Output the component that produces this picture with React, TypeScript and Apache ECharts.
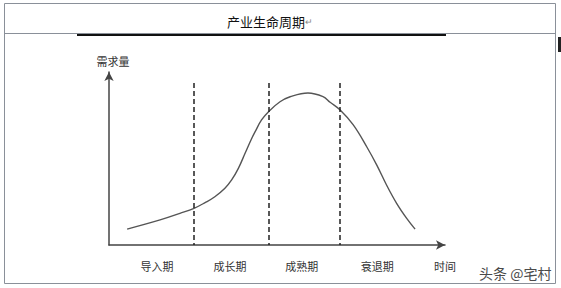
import React, { useEffect, useRef } from 'react';
import * as echarts from 'echarts';

const timeValues = [5.4, 15.2, 21.1, 25.3, 28.6, 31.5, 34.5, 36.5, 38.5, 40.5, 42.5, 43.5, 45.4, 47.7, 50.9, 53.9, 59.2, 63.7, 65.8, 68.8, 72.7, 76.7, 79.7, 82.6, 85.6, 88.6, 91.1];
const demandValues = [9.2, 14.5, 18.3, 21.2, 24.5, 27.9, 32.8, 37.6, 44.3, 53.0, 61.7, 65.5, 72.3, 77.5, 82.8, 85.7, 87.9, 85.8, 82.5, 78.0, 69.4, 56.8, 46.2, 34.7, 24.1, 15.4, 9.2];
const phaseBoundaries = [25.3, 47.6, 68.8];
const phaseLineTop = 93.6;
const xLabels = ['导入期', '成长期', '成熟期', '衰退期', '时间'];
const xLabelValues = [14.3, 36.0, 57.4, 79.8, 100];
const titleText = '产业生命周期';
const yAxisName = '需求量';
const watermark = '头条 @宅村';

const FONT = '"Noto Sans CJK SC", "Noto Sans", sans-serif';

export default function App() {
  const ref = useRef<HTMLDivElement>(null);
  useEffect(() => {
    if (!ref.current) return;
    const chart = echarts.init(ref.current, undefined, { renderer: 'svg' });
    const points = timeValues.map((t, i) => [t, demandValues[i]]);
    chart.setOption({
      animation: false,
      backgroundColor: '#ffffff',
      textStyle: { fontFamily: FONT },
      title: {
        text: titleText + '{r|↵}',
        left: 222,
        top: 10,
        textStyle: {
          fontSize: 13,
          fontWeight: 'normal',
          color: '#111',
          fontFamily: FONT,
          rich: { r: { fontSize: 9, color: '#888', fontFamily: FONT } },
        },
      },
      grid: { left: 109, right: 116, top: 72, bottom: 43 },
      xAxis: {
        type: 'value',
        min: 0,
        max: 100,
        splitLine: { show: false },
        axisTick: { show: false },
        axisLine: {
          show: true,
          symbol: ['none', 'arrow'],
          symbolSize: [7, 9],
          lineStyle: { color: '#444', width: 1.5 },
        },
        axisLabel: {
          customValues: xLabelValues,
          margin: 15,
          fontSize: 11,
          color: '#333',
          fontFamily: FONT,
          formatter: (v: number) => {
            const i = xLabelValues.findIndex((x) => Math.abs(x - v) < 0.01);
            return i >= 0 ? xLabels[i] : '';
          },
        },
      },
      yAxis: {
        type: 'value',
        min: 0,
        max: 100,
        name: yAxisName,
        nameGap: 6,
        nameTextStyle: { fontSize: 11, color: '#333', fontFamily: FONT, padding: [0, 0, 0, 8] },
        splitLine: { show: false },
        axisTick: { show: false },
        axisLabel: { show: false },
        axisLine: {
          show: true,
          symbol: ['none', 'arrow'],
          symbolSize: [7, 9],
          lineStyle: { color: '#444', width: 1.5 },
        },
      },
      series: [
        {
          type: 'line',
          data: points,
          smooth: 0.4,
          smoothConstraint: false,
          showSymbol: false,
          lineStyle: { color: '#555', width: 1.4 },
          markLine: {
            silent: true,
            symbol: 'none',
            label: { show: false },
            lineStyle: { color: '#222', width: 1.5, type: [5, 3] },
            data: phaseBoundaries.map((b) => [{ coord: [b, phaseLineTop] }, { coord: [b, 0] }]),
          },
        },
      ],
      graphic: [
        {
          type: 'rect',
          silent: true,
          shape: { x: 4.5, y: 3.5, width: 551, height: 280 },
          style: { fill: 'none', stroke: '#8a9099', lineWidth: 1 },
        },
        {
          type: 'line',
          silent: true,
          shape: { x1: 4.5, y1: 33.5, x2: 555.5, y2: 33.5 },
          style: { stroke: '#8a9099', lineWidth: 1 },
        },
        {
          type: 'line',
          silent: true,
          shape: { x1: 77, y1: 35, x2: 446, y2: 35 },
          style: { stroke: '#111', lineWidth: 2 },
        },
        {
          type: 'rect',
          silent: true,
          shape: { x: 558, y: 37, width: 3, height: 15 },
          style: { fill: '#222' },
        },
        {
          type: 'text',
          silent: true,
          x: 479,
          y: 273,
          style: {
            text: watermark,
            font: '14px ' + FONT,
            fill: '#4a4a4a',
            stroke: '#ffffff',
            lineWidth: 2,
            verticalAlign: 'middle',
          },
        },
      ],
    });
    return () => chart.dispose();
  }, []);
  return <div ref={ref} style={{ position: 'fixed', left: 0, top: 0, width: 561, height: 288 }} />;
}
